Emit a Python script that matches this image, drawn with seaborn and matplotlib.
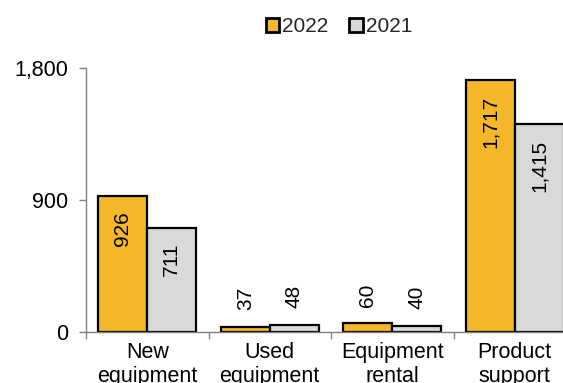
import matplotlib
matplotlib.use("Agg")
import matplotlib.pyplot as plt
import seaborn as sns
import pandas as pd

categories = ["New\nequipment", "Used\nequipment", "Equipment\nrental", "Product\nsupport"]
years = ["2022", "2021"]
values_2022 = [926, 37, 60, 1717]
values_2021 = [711, 48, 40, 1415]
y_ticks = [0, 900, 1800]
y_tick_labels = ["0", "900", "1,800"]

palette = {"2022": "#F4B72A", "2021": "#D9D9D9"}
spine_color = "#808080"

sns.set_theme(style="white")
plt.rcParams["font.family"] = ["Liberation Sans", "DejaVu Sans"]

df = pd.DataFrame({
    "category": categories * 2,
    "year": [years[0]] * len(categories) + [years[1]] * len(categories),
    "value": values_2022 + values_2021,
})

fig = plt.figure(figsize=(5.63, 3.83), dpi=100)
ax = fig.add_axes([86 / 563, 1 - 332 / 383, 490 / 563, (332 - 68) / 383])

sns.barplot(data=df, x="category", y="value", hue="year", hue_order=years,
            palette=palette, width=0.8, edgecolor="black", linewidth=1.6,
            saturation=1, ax=ax, legend=True)

ax.set_ylim(0, 1800)
ax.set_xlim(-0.5, len(categories) - 0.5)
ax.set_yticks(y_ticks)
ax.set_yticklabels(y_tick_labels)
ax.set_xlabel("")
ax.set_ylabel("")

# category labels centred, tick marks on the boundaries between groups
ax.set_xticks(range(len(categories)))
ax.set_xticklabels(categories, linespacing=1.2)
ax.set_xticks([i - 0.5 for i in range(len(categories) + 1)], minor=True)
ax.tick_params(axis="x", which="major", length=0, pad=7, labelsize=15.5, colors="black")
ax.tick_params(axis="x", which="minor", length=5, width=1, color=spine_color, direction="out", bottom=True)
ax.tick_params(axis="y", length=5, width=1, color=spine_color, direction="out", left=True,
               labelsize=15.5, pad=8, labelcolor="black")

for side in ["top", "right"]:
    ax.spines[side].set_visible(False)
for side in ["left", "bottom"]:
    ax.spines[side].set_color(spine_color)
    ax.spines[side].set_linewidth(1)

# value labels: inside the top of tall bars, above short ones
for container, vals in zip(ax.containers, [values_2022, values_2021]):
    for bar, v in zip(container, vals):
        x = bar.get_x() + bar.get_width() / 2
        label = f"{v:,}"
        if v > 300:
            ax.annotate(label, (x, v), xytext=(0, -11), textcoords="offset points",
                        rotation=90, ha="center", va="top", fontsize=15, color="black")
        else:
            ax.annotate(label, (x, v), xytext=(0, 12), textcoords="offset points",
                        rotation=90, ha="center", va="bottom", fontsize=15, color="black")

leg = ax.legend(loc="center", bbox_to_anchor=(339 / 563, 1 - 27 / 383),
                bbox_transform=fig.transFigure, ncol=2, frameon=False,
                fontsize=15, handlelength=0.65, handleheight=0.65,
                handletextpad=0.15, columnspacing=1.0, borderpad=0)
for h in leg.legend_handles:
    h.set_edgecolor("black")
    h.set_linewidth(2)

fig.savefig("out.png", dpi=100)
